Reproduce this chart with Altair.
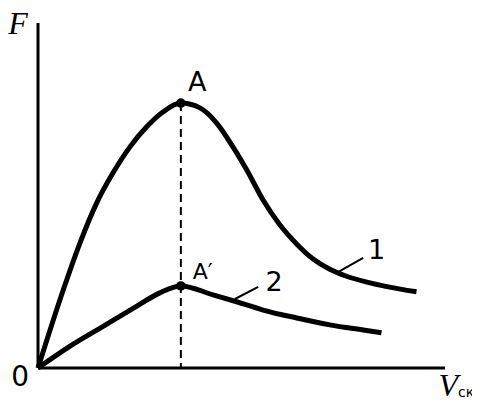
import altair as alt
import pandas as pd

# Curve 1 (upper) : speed V (x) vs force F (y), arbitrary units 0..10
c1_v = [0.0, 0.62, 1.03, 1.44, 1.84, 2.26, 2.67, 3.07, 3.51, 3.98, 4.39, 4.79, 5.13, 5.53, 5.95, 6.36, 6.76, 7.17, 7.58, 8.08, 8.57, 9.30]
c1_f = [0.0, 2.26, 3.62, 4.78, 5.65, 6.41, 6.99, 7.42, 7.68, 7.54, 7.10, 6.41, 5.74, 4.87, 4.14, 3.59, 3.16, 2.86, 2.66, 2.49, 2.36, 2.21]

# Curve 2 (lower)
c2_v = [0.0, 0.77, 1.59, 2.41, 2.98, 3.51, 4.30, 4.88, 5.53, 6.36, 7.17, 7.99, 8.44]
c2_f = [0.0, 0.62, 1.20, 1.78, 2.17, 2.38, 2.12, 1.92, 1.68, 1.45, 1.25, 1.10, 1.02]

# Peak points
peak_names = ["A", "A′"]
peak_v = [3.51, 3.51]
peak_f = [7.68, 2.38]

# Leader lines for curve labels
lead_names = ["1", "2"]
lead_v1 = [7.37, 4.84]
lead_f1 = [2.78, 2.00]
lead_v2 = [7.99, 5.41]
lead_f2 = [3.19, 2.35]
lab_v = [8.32, 5.80]
lab_f = [3.39, 2.47]

df1 = pd.DataFrame({"v": c1_v, "f": c1_f})
df2 = pd.DataFrame({"v": c2_v, "f": c2_f})
dfp = pd.DataFrame({"name": peak_names, "v": peak_v, "f": peak_f})
dfl = pd.DataFrame({"name": lead_names, "v1": lead_v1, "f1": lead_f1,
                    "v2": lead_v2, "f2": lead_f2, "lv": lab_v, "lf": lab_f})

xs = alt.Scale(domain=[0, 10])
ys = alt.Scale(domain=[0, 10])
X = lambda f: alt.X(f, type="quantitative", scale=xs, axis=None)
Y = lambda f: alt.Y(f, type="quantitative", scale=ys, axis=None)

axes_df = pd.DataFrame({"v1": [0, 0], "f1": [0, 0], "v2": [0, 10], "f2": [10, 0]})
axes = alt.Chart(axes_df).mark_rule(color="black", strokeWidth=3).encode(
    x=X("v1"), y=Y("f1"), x2="v2", y2="f2")

dash = alt.Chart(dfp.iloc[[0]]).mark_rule(color="black", strokeWidth=2, strokeDash=[8, 5]).encode(
    x=X("v"), y=Y("f"), y2=alt.datum(0))

line1 = alt.Chart(df1).mark_line(color="black", strokeWidth=5, interpolate="monotone").encode(
    x=X("v"), y=Y("f"), order="v:Q")
line2 = alt.Chart(df2).mark_line(color="black", strokeWidth=5, interpolate="monotone").encode(
    x=X("v"), y=Y("f"), order="v:Q")

pts = alt.Chart(dfp).mark_circle(color="black", size=90, opacity=1).encode(x=X("v"), y=Y("f"))

leaders = alt.Chart(dfl).mark_rule(color="black", strokeWidth=2).encode(
    x=X("v1"), y=Y("f1"), x2="v2", y2="f2")
lead_text = alt.Chart(dfl).mark_text(font="DejaVu Sans", fontSize=27, align="center",
                                     baseline="middle", color="black").encode(
    x=X("lv"), y=Y("lf"), text="name")

txt_a = alt.Chart(pd.DataFrame({"t": ["A"], "v": [3.91], "f": [8.26]})).mark_text(
    font="DejaVu Sans", fontSize=27, baseline="middle", color="black").encode(x=X("v"), y=Y("f"), text="t")
txt_a2 = alt.Chart(pd.DataFrame({"t": ["A′"], "v": [4.05], "f": [2.78]})).mark_text(
    font="DejaVu Sans", fontSize=22, baseline="middle", color="black").encode(x=X("v"), y=Y("f"), text="t")
txt_0 = alt.Chart(pd.DataFrame({"t": ["0"], "v": [-0.44], "f": [-0.29]})).mark_text(
    font="DejaVu Sans", fontSize=28, baseline="middle", color="black").encode(x=X("v"), y=Y("f"), text="t")
txt_F = alt.Chart(pd.DataFrame({"t": ["F"], "v": [-0.49], "f": [9.97]})).mark_text(
    font="Liberation Serif", fontStyle="italic", fontSize=32, baseline="middle", color="black").encode(
    x=X("v"), y=Y("f"), text="t")
txt_V = alt.Chart(pd.DataFrame({"t": ["V"], "v": [10.08], "f": [-0.81]})).mark_text(
    font="Liberation Serif", fontStyle="italic", fontSize=32, baseline="alphabetic", color="black").encode(
    x=X("v"), y=Y("f"), text="t")
txt_ck = alt.Chart(pd.DataFrame({"t": ["ск"], "v": [10.32], "f": [-0.84]})).mark_text(
    font="DejaVu Sans", fontSize=14, align="left", baseline="alphabetic", color="black").encode(
    x=X("v"), y=Y("f"), text="t")

chart = alt.layer(axes, dash, line1, line2, pts, leaders, lead_text,
                  txt_a, txt_a2, txt_0, txt_F, txt_V, txt_ck).properties(
    width=407, height=345,
    padding={"left": 30, "top": 15, "right": 27, "bottom": 32},
    autosize=alt.AutoSizeParams(type="none"),
).configure_view(stroke=None)

chart.save("out.html", embed_options={"renderer": "svg", "actions": False})
